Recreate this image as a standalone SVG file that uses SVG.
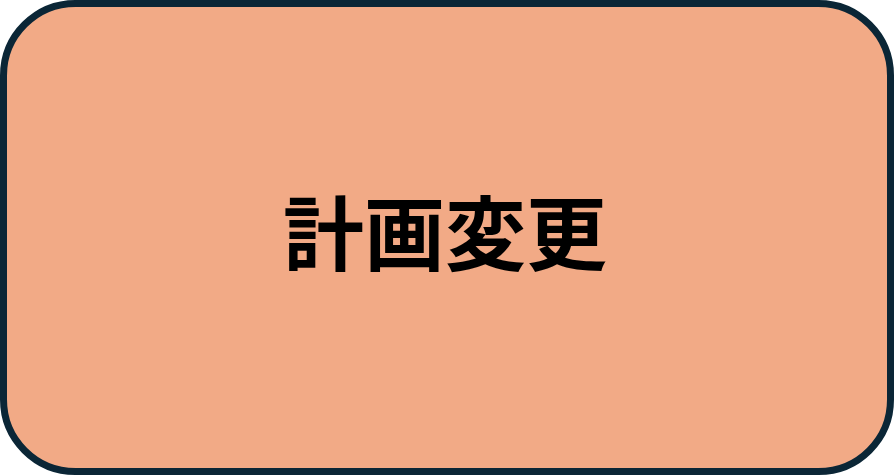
<svg xmlns="http://www.w3.org/2000/svg" width="894" height="475" viewBox="0 0 894 475">
<style>
.box{fill:#F2AA86;stroke:#0B2636;stroke-width:7}
.lbl{font-family:"Noto Sans CJK JP","Noto Sans CJK SC",sans-serif;font-weight:bold;font-size:81px;fill:#000;text-anchor:middle;dominant-baseline:central}
</style>
<g id="node-plan-change">
<rect class="box" x="3.5" y="3.5" width="887" height="468" rx="72" ry="72"/>
<text class="lbl" x="445" y="228">計画変更</text>
</g>
<g id="connectors"/>
</svg>
